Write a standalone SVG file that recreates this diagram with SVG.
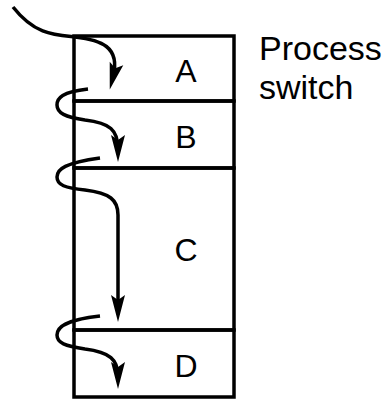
<svg xmlns="http://www.w3.org/2000/svg" width="391" height="399" viewBox="0 0 391 399">
<style>
.box{fill:none;stroke:#000;stroke-width:3.5}
.lbl{font-family:"Liberation Sans",Arial,sans-serif;font-size:32px;fill:#000;text-anchor:middle}
.cap{font-family:"Liberation Sans",Arial,sans-serif;font-size:34px;fill:#000}
.flow{fill:none;stroke:#000;stroke-width:3.5;marker-end:url(#ah)}
</style>
<defs>
<marker id="ah" markerUnits="userSpaceOnUse" markerWidth="30" markerHeight="14" refX="14" refY="7" orient="auto" overflow="visible">
<polygon points="0,0 27,7 0,14 5,7" fill="#000"/>
</marker>
</defs>
<rect width="391" height="399" fill="#fff"/>
<g id="A"><rect class="box" x="74" y="36" width="160" height="65"/><text class="lbl" x="186" y="82">A</text></g>
<g id="B"><rect class="box" x="74" y="101" width="160" height="67"/><text class="lbl" x="186" y="148">B</text></g>
<g id="C"><rect class="box" x="74" y="168" width="160" height="162"/><text class="lbl" x="186" y="261">C</text></g>
<g id="D"><rect class="box" x="74" y="330" width="160" height="67"/><text class="lbl" x="186" y="377">D</text></g>
<g id="label"><text class="cap" x="259" y="60">Process</text><text class="cap" x="259" y="99">switch</text></g>
<g id="connectors">
<path class="flow" d="M13,7 C35,35 55,35 75,37 C100,40 121,46 113,77"/>
<path class="flow" d="M88,89 C62,92 57,98 57,105 C57,113 65,117 85,120 C110,123 118,130 118,149"/>
<path class="flow" d="M100,158 C65,163 57,169 57,177 C57,185 65,188 85,190 C110,193 118,200 118,215 L118,309"/>
<path class="flow" d="M100,316 C65,320 57,327 57,335 C57,343 65,346 85,349 C110,352 118,360 118,376"/>
</g>
</svg>
